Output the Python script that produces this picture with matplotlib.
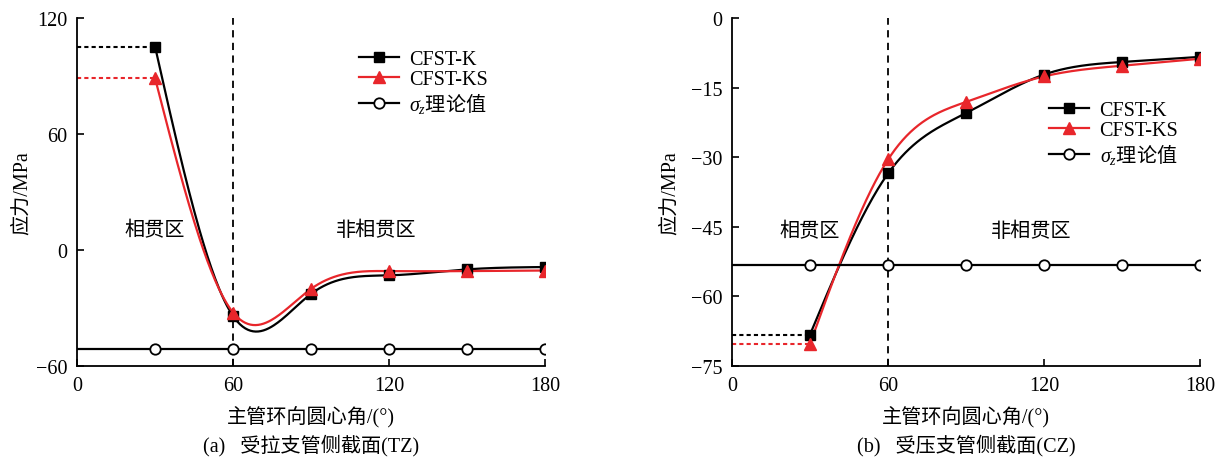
import numpy as np
import matplotlib.pyplot as plt

plt.rcParams['font.family'] = ['Liberation Serif', 'Noto Sans CJK SC']
plt.rcParams['mathtext.fontset'] = 'custom'
plt.rcParams['mathtext.rm'] = 'Noto Sans CJK SC'
plt.rcParams['mathtext.it'] = 'Liberation Serif:italic'
plt.rcParams['axes.unicode_minus'] = True

angles = [30, 60, 90, 120, 150, 180]
theory_x = [0, 30, 60, 90, 120, 150, 180]

# (a) tension side
tz_k = [105.0, -34.2, -22.6, -13.1, -10.0, -8.8]
tz_ks = [88.7, -32.4, -20.0, -10.9, -10.9, -10.6]
tz_theory = [-51.0] * 7

# (b) compression side
cz_k = [-68.2, -33.5, -20.5, -12.2, -9.5, -8.4]
cz_ks = [-70.2, -30.5, -18.1, -12.6, -10.3, -8.8]
cz_theory = [-53.3] * 7

FS = 14.5


def spline(x, y, n=300):
    # natural cubic spline through the points
    x = np.asarray(x, float)
    y = np.asarray(y, float)
    m = len(x)
    h = np.diff(x)
    A = np.zeros((m, m))
    b = np.zeros(m)
    A[0, 0] = A[-1, -1] = 1
    for i in range(1, m - 1):
        A[i, i - 1] = h[i - 1]
        A[i, i] = 2 * (h[i - 1] + h[i])
        A[i, i + 1] = h[i]
        b[i] = 6 * ((y[i + 1] - y[i]) / h[i] - (y[i] - y[i - 1]) / h[i - 1])
    M = np.linalg.solve(A, b)
    xs = np.linspace(x[0], x[-1], n)
    idx = np.clip(np.searchsorted(x, xs) - 1, 0, m - 2)
    x0, x1 = x[idx], x[idx + 1]
    hh = x1 - x0
    t0 = x1 - xs
    t1 = xs - x0
    ys = (M[idx] * t0**3 + M[idx + 1] * t1**3) / (6 * hh) \
        + (y[idx] / hh - M[idx] * hh / 6) * t0 \
        + (y[idx + 1] / hh - M[idx + 1] * hh / 6) * t1
    return xs, ys


def panel(ax, k, ks, th, ylim, yticks, caption, leg_loc, zone_y, ylpad):
    red = '#e8262b'
    xs, ys = spline(angles, k)
    ax.plot(xs, ys, color='black', lw=1.6, zorder=3)
    ax.plot(angles, k, ls='none', marker='s', ms=7, color='black', zorder=4)
    xs, ys = spline(angles, ks)
    ax.plot(xs, ys, color=red, lw=1.6, zorder=3)
    ax.plot(angles, ks, ls='none', marker='^', ms=8.5, color=red, zorder=4)
    ax.plot(theory_x, th, color='black', lw=1.6, marker='o', ms=7.5,
            mfc='white', mec='black', mew=1.3,
            markevery=list(range(1, 7)), zorder=3)

    # dotted lead lines to the y axis
    ax.plot([0, angles[0]], [k[0], k[0]], color='black', ls=(0, (2, 1.5)), lw=1.5)
    ax.plot([0, angles[0]], [ks[0], ks[0]], color=red, ls=(0, (2, 1.5)), lw=1.5)
    ax.axvline(60, color='black', lw=1.3, ls=(0, (4, 3)), zorder=2)

    ax.plot([], [], color='black', lw=1.6, marker='s', ms=7, label='CFST-K')
    ax.plot([], [], color=red, lw=1.6, marker='^', ms=8.5, label='CFST-KS')
    ax.plot([], [], color='black', lw=1.6, marker='o', ms=7.5, mfc='white',
            mew=1.3, label=r'$\sigma_z\mathrm{理论值}$')
    ax.legend(loc='upper left', bbox_to_anchor=leg_loc, frameon=False,
              fontsize=FS, handlelength=2.0, handletextpad=0.5,
              labelspacing=0.05, borderaxespad=0)

    ax.text(30, zone_y, '相贯区', ha='center', va='center', fontsize=FS)
    ax.text(115, zone_y, '非相贯区', ha='center', va='center', fontsize=FS)

    ax.set_xlim(0, 180)
    ax.set_ylim(*ylim)
    ax.set_xticks([0, 60, 120, 180])
    ax.set_yticks(yticks)
    ax.tick_params(direction='in', labelsize=FS, length=5, width=1.2, pad=7)
    for s in ('top', 'right'):
        ax.spines[s].set_visible(False)
    for s in ('left', 'bottom'):
        ax.spines[s].set_linewidth(1.3)
    ax.set_xlabel('主管环向圆心角/(°)', fontsize=FS, labelpad=8)
    ax.set_ylabel('应力/MPa', fontsize=FS, labelpad=ylpad)
    ax.text(0.5, -0.225, caption, transform=ax.transAxes, ha='center',
            va='center', fontsize=FS)


fig = plt.figure(figsize=(12.23, 4.6), dpi=100)
ax1 = fig.add_axes([0.063, 0.202, 0.383, 0.757])
ax2 = fig.add_axes([0.5985, 0.202, 0.383, 0.757])

panel(ax1, tz_k, tz_ks, tz_theory, (-60, 120), [-60, 0, 60, 120],
      '(a)   受拉支管侧截面(TZ)', (0.585, 0.93), 10, 3)
panel(ax2, cz_k, cz_ks, cz_theory, (-75, 0), [-75, -60, -45, -30, -15, 0],
      '(b)   受压支管侧截面(CZ)', (0.66, 0.785), -46, 8)

fig.savefig('out.png', dpi=100)
